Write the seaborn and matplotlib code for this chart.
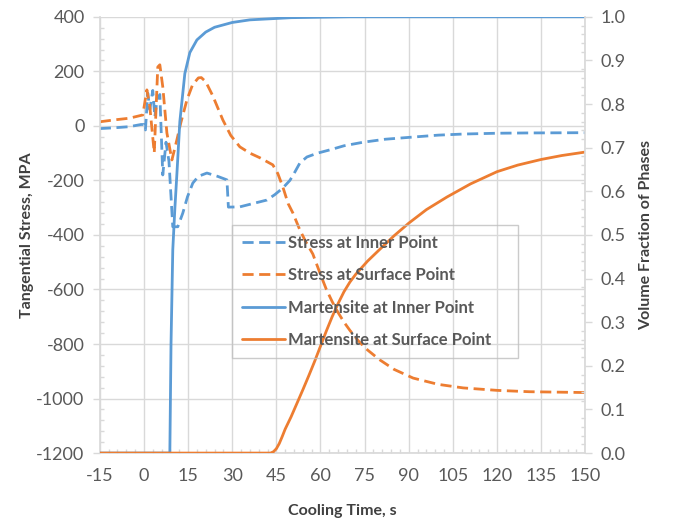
import matplotlib
matplotlib.use("Agg")
import matplotlib.pyplot as plt
from matplotlib.ticker import MultipleLocator
import seaborn as sns
import pandas as pd

sns.set_theme(style="white")
plt.rcParams['font.family'] = ['Lato', 'DejaVu Sans']
plt.rcParams['axes.unicode_minus'] = False

# ---- data ----
t_inner_stress = [-15, -10, -5, -1, 0, 0.5, 1.3, 2, 3, 3.7, 4.5, 5.4, 6.4, 7.5, 8.5,
                  9.8, 11.5, 13.2, 14.8, 16.6, 18.5, 21.4, 25, 28.2, 28.7, 32.6, 37, 41.8,
                  44.5, 47.2, 49.6, 51, 53, 55.4, 59, 63.2, 68, 74.5, 82, 91.5, 100, 108.5,
                  120, 130, 150]
s_inner_stress = [-10, -7, -3, 5, 5, -15, 120, 60, 130, 33, 100, 115, -180, -60, -130,
                  -370, -370, -320, -260, -210, -185, -173, -185, -198, -298, -297, -285, -272,
                  -252, -228, -200, -175, -136, -114, -100, -88, -73, -60, -49, -41, -34, -30,
                  -27, -26, -25]

t_surf_stress = [-15, -10, -5, -0.4, 1, 2, 3.5, 4.7, 5.4, 6.4, 7.8, 9.5, 11.2, 12.5, 14.6,
                 16.5, 18.5, 19.5, 21, 23.4, 26.8, 29.5, 32.6, 36, 39.4, 43.8, 45.5, 47.2,
                 49, 50.6, 53, 55, 57.4, 60, 62, 64, 66, 68, 70, 73, 76, 80, 85, 91.5,
                 100, 108.5, 120, 131, 150]
s_surf_stress = [15, 22, 28, 40, 132, 70, -99, 216, 224, 143, -26, -125, -51, 10, 95,
                 150, 176, 177, 162, 110, 22, -35, -77, -100, -117, -143, -175, -224,
                 -285, -319, -382, -425, -470, -545, -600, -645, -685, -720, -750, -790,
                 -822, -857, -893, -925, -948, -961, -970, -975, -978]

t_inner_mart = [-15, 8.8, 9.2, 9.8, 10.5, 11.2, 12.2, 13.9, 15.6, 18, 21, 24, 30, 36,
                50, 70, 150]
f_inner_mart = [0, 0, 0.25, 0.466, 0.56, 0.64, 0.76, 0.87, 0.918, 0.947, 0.965, 0.976,
                0.987, 0.993, 0.998, 1.0, 1.0]

t_surf_mart = [-15, 43, 44, 45, 46, 47, 48, 50, 52, 54, 56, 58, 60, 62, 64, 66, 68, 70,
               72, 76, 80, 85, 90, 96, 103, 111, 120, 127, 135, 142, 150]
f_surf_mart = [0, 0, 0.003, 0.01, 0.022, 0.038, 0.055, 0.083, 0.114, 0.145, 0.177, 0.21,
               0.245, 0.28, 0.313, 0.343, 0.37, 0.392, 0.41, 0.44, 0.466, 0.498, 0.527,
               0.558, 0.587, 0.617, 0.645, 0.66, 0.673, 0.682, 0.69]

labels = ["Stress at Inner Point", "Stress at Surface Point",
          "Martensite at Inner Point", "Martensite at Surface Point"]
x_ticks = [-15, 0, 15, 30, 45, 60, 75, 90, 105, 120, 135, 150]

BLUE = "#5B9BD5"
ORANGE = "#ED7D31"
GRID = "#D9D9D9"
TXT = "#595959"

fig = plt.figure(figsize=(6.79, 5.25), dpi=100)
ax = fig.add_axes([0.147, 0.137, 0.715, 0.831])
ax2 = ax.twinx()

df1 = pd.DataFrame({"t": t_inner_stress, "v": s_inner_stress})
df2 = pd.DataFrame({"t": t_surf_stress, "v": s_surf_stress})
df3 = pd.DataFrame({"t": t_inner_mart, "v": f_inner_mart})
df4 = pd.DataFrame({"t": t_surf_mart, "v": f_surf_mart})

lw = 2.0
sns.lineplot(data=df1, x="t", y="v", ax=ax, color=BLUE, lw=lw, label=labels[0],
             legend=False, estimator=None, sort=False)
sns.lineplot(data=df2, x="t", y="v", ax=ax, color=ORANGE, lw=lw, label=labels[1],
             legend=False, estimator=None, sort=False)
for ln in ax.get_lines():
    ln.set_dashes((4, 2))
sns.lineplot(data=df3, x="t", y="v", ax=ax2, color=BLUE, lw=lw, label=labels[2],
             legend=False, estimator=None, sort=False)
sns.lineplot(data=df4, x="t", y="v", ax=ax2, color=ORANGE, lw=lw, label=labels[3],
             legend=False, estimator=None, sort=False)

ax.set_xlim(-15, 150)
ax.set_ylim(-1200, 400)
ax2.set_ylim(0, 1.0)
ax.set_xticks(x_ticks)
ax.set_yticks(range(-1200, 401, 200))
ax2.set_yticks([i / 10 for i in range(11)])
ax2.set_yticklabels([f"{i / 10:.1f}" for i in range(11)])
ax.yaxis.set_minor_locator(MultipleLocator(40))
ax2.yaxis.set_minor_locator(MultipleLocator(0.02))
ax.xaxis.set_minor_locator(MultipleLocator(3))

ax.grid(True, which="major", color=GRID, lw=1.0)
ax.set_axisbelow(True)

for a in (ax, ax2):
    a.spines["top"].set_visible(False)
    a.spines["left"].set_color(GRID)
    a.spines["right"].set_color(GRID)
    a.spines["bottom"].set_color(GRID)
ax2.spines["left"].set_visible(False)
ax2.spines["bottom"].set_visible(False)
ax.spines["right"].set_visible(False)

ax.tick_params(axis="both", which="major", labelsize=13, colors=GRID, labelcolor=TXT,
               length=5, width=1, pad=6)
ax.tick_params(axis="y", which="minor", left=True, length=3, width=1, colors=GRID, direction="in")
ax.tick_params(axis="x", which="minor", bottom=True, length=3, width=1, colors=GRID, direction="in")
ax2.tick_params(axis="y", which="major", labelsize=13, colors=GRID, labelcolor=TXT,
                length=5, width=1, pad=6)
ax2.tick_params(axis="y", which="minor", right=True, length=3, width=1, colors=GRID, direction="in")

ax.set_xlabel("Cooling Time, s", fontsize=11.5, fontweight="bold", color="#404040", labelpad=14)
ax.set_ylabel("Tangential Stress, MPA", fontsize=11.5, fontweight="bold", color="#404040", labelpad=2)
ax2.set_ylabel("Volume Fraction of Phases", fontsize=11.5, fontweight="bold", color="#404040", labelpad=10)

handles = ax.get_lines()[:2] + ax2.get_lines()[:2]
leg = ax2.legend(handles, labels, loc="upper left",
                 bbox_to_anchor=(0.272, 0.225, 0.59, 0.298), mode="expand",
                 frameon=True, fancybox=False, facecolor="none", edgecolor="#BFBFBF",
                 fontsize=12, handlelength=2.6, handletextpad=0.15, labelspacing=0.98,
                 borderpad=0.6, borderaxespad=0)
for txt in leg.get_texts():
    txt.set_color(TXT)
    txt.set_fontweight("bold")
leg.get_frame().set_linewidth(1.0)

fig.savefig("out.png", dpi=100)
